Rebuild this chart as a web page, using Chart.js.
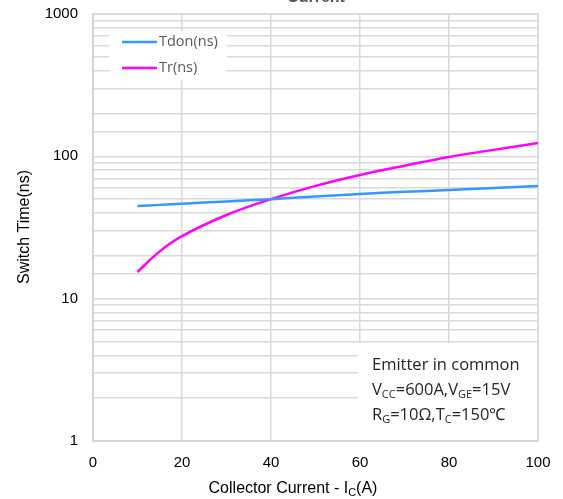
<!DOCTYPE html>
<html>
<head>
<meta charset="utf-8">
<script src="https://cdn.jsdelivr.net/npm/chart.js@4.4.1/dist/chart.umd.min.js"></script>
<style>
  html, body { margin: 0; padding: 0; background: #fff; }
  #wrap { width: 563px; height: 499px; }
</style>
</head>
<body>
<div id="wrap"><canvas id="chart" width="563" height="499"></canvas></div>
<script>
// values
const currents = [10, 15, 20, 30, 40, 50, 60, 70, 80, 90, 100];
const tdon = [44.8, 45.6, 46.5, 48.2, 50, 52.2, 54.4, 56.3, 58, 60, 62];
const tr = [15.4, 21.5, 27.5, 38.7, 50, 62, 74, 86, 99, 111, 124];
const seriesNames = ["Tdon(ns)", "Tr(ns)"];
const seriesColors = ["#3399ff", "#ff00ff"];
const xTicks = [0, 20, 40, 60, 80, 100];
const yLabels = [1, 10, 100, 1000];
const noteLines = [
    [["Emitter in common", false]],
    [["V", false], ["CC", true], ["=600A,V", false], ["GE", true], ["=15V", false]],
    [["R", false], ["G", true], ["=10Ω,T", false], ["C", true], ["=150℃", false]]
];

const tickFont = { family: "Liberation Sans, Arial", size: 15 };

function drawParts(ctx, parts, x, y, size, font) {
    parts.forEach(p => {
        if (p[1]) {
            ctx.font = Math.round(size * 0.68) + "px " + font;
            ctx.fillText(p[0], x, y + size * 0.2);
        } else {
            ctx.font = size + "px " + font;
            ctx.fillText(p[0], x, y);
        }
        x += ctx.measureText(p[0]).width;
    });
}

// extra texts: cut off title, axis titles, legend box, condition box
const decor = {
    id: "decor",
    afterDatasetsDraw(chart) {
        const ctx = chart.ctx;
        const area = chart.chartArea;
        ctx.save();

        // legend box
        ctx.fillStyle = "#fff";
        ctx.fillRect(109, 31, 118, 49);
        chart.data.datasets.forEach((ds, i) => {
            const y = 42 + i * 26;
            ctx.strokeStyle = ds.borderColor;
            ctx.lineWidth = 2.5;
            ctx.beginPath();
            ctx.moveTo(122, y);
            ctx.lineTo(157, y);
            ctx.stroke();
            ctx.fillStyle = "#595959";
            ctx.font = "14.5px 'Open Sans', Carlito, sans-serif";
            ctx.textBaseline = "middle";
            ctx.fillText(ds.label, 159, y);
        });

        // condition box
        ctx.fillStyle = "#fff";
        ctx.fillRect(358, 343, area.right - 358 - 1, area.bottom - 343 - 1);
        ctx.fillStyle = "#262626";
        ctx.textBaseline = "alphabetic";
        noteLines.forEach((parts, i) => {
            drawParts(ctx, parts, 372, 370 + i * 25, 16.5, "'Open Sans', Carlito, sans-serif");
        });

        // title, mostly out of the picture
        ctx.fillStyle = "#555";
        ctx.font = "bold 16px 'Liberation Sans', Arial";
        ctx.textAlign = "center";
        ctx.fillText("Current", 316, 1.5);

        // y title
        ctx.fillStyle = "#000";
        ctx.save();
        ctx.translate(25, 227);
        ctx.rotate(-Math.PI / 2);
        ctx.textBaseline = "middle";
        ctx.font = "16px 'Liberation Sans', Arial";
        ctx.fillText("Switch Time(ns)", 0, 0);
        ctx.restore();

        // x title with subscript
        ctx.textAlign = "left";
        const xParts = [["Collector Current - I", false], ["C", true], ["(A)", false]];
        let w = 0;
        xParts.forEach(p => {
            ctx.font = (p[1] ? 11 : 16) + "px 'Liberation Sans', Arial";
            w += ctx.measureText(p[0]).width;
        });
        drawParts(ctx, xParts, 293 - w / 2, 493, 16, "'Liberation Sans', Arial");

        ctx.restore();
    }
};

const datasets = [tdon, tr].map((vals, i) => ({
    label: seriesNames[i],
    data: currents.map((c, j) => ({ x: c, y: vals[j] })),
    borderColor: seriesColors[i],
    backgroundColor: seriesColors[i],
    borderWidth: 2.5,
    pointRadius: 0,
    tension: 0.4,
    fill: false
}));

new Chart(document.getElementById("chart"), {
    type: "line",
    data: { datasets },
    options: {
        responsive: false,
        animation: false,
        layout: { padding: { top: 14, right: 25, left: 0, bottom: 0 } },
        plugins: {
            legend: { display: false },
            tooltip: { enabled: false }
        },
        scales: {
            x: {
                type: "linear",
                min: 0,
                max: 100,
                afterBuildTicks: axis => { axis.ticks = xTicks.map(v => ({ value: v })); },
                afterFit: axis => {
                    axis.height = 58;
                    axis.paddingLeft = 0;
                    axis.paddingRight = 0;
                },
                grid: { color: "#d9d9d9", lineWidth: 1.5, drawTicks: false },
                border: { color: "#bfbfbf", width: 1.5 },
                ticks: { color: "#000", font: tickFont, padding: 13, maxRotation: 0 }
            },
            y: {
                type: "logarithmic",
                min: 1,
                max: 1000,
                afterFit: axis => {
                    axis.width = 93;
                    axis.paddingTop = 0;
                    axis.paddingBottom = 0;
                },
                grid: { color: "#d9d9d9", lineWidth: 1.5, drawTicks: false },
                border: { color: "#bfbfbf", width: 1.5 },
                ticks: {
                    color: "#000",
                    font: tickFont,
                    padding: 15,
                    autoSkip: false,
                    callback: v => yLabels.includes(v) ? String(v) : ""
                }
            }
        }
    },
    plugins: [decor, {
        id: "frame",
        beforeDatasetsDraw(chart) {
            const a = chart.chartArea;
            const ctx = chart.ctx;
            ctx.save();
            ctx.strokeStyle = "#d9d9d9";
            ctx.lineWidth = 1.5;
            ctx.strokeRect(a.left, a.top, a.right - a.left, a.bottom - a.top);
            ctx.restore();
        }
    }]
});
</script>
</body>
</html>
